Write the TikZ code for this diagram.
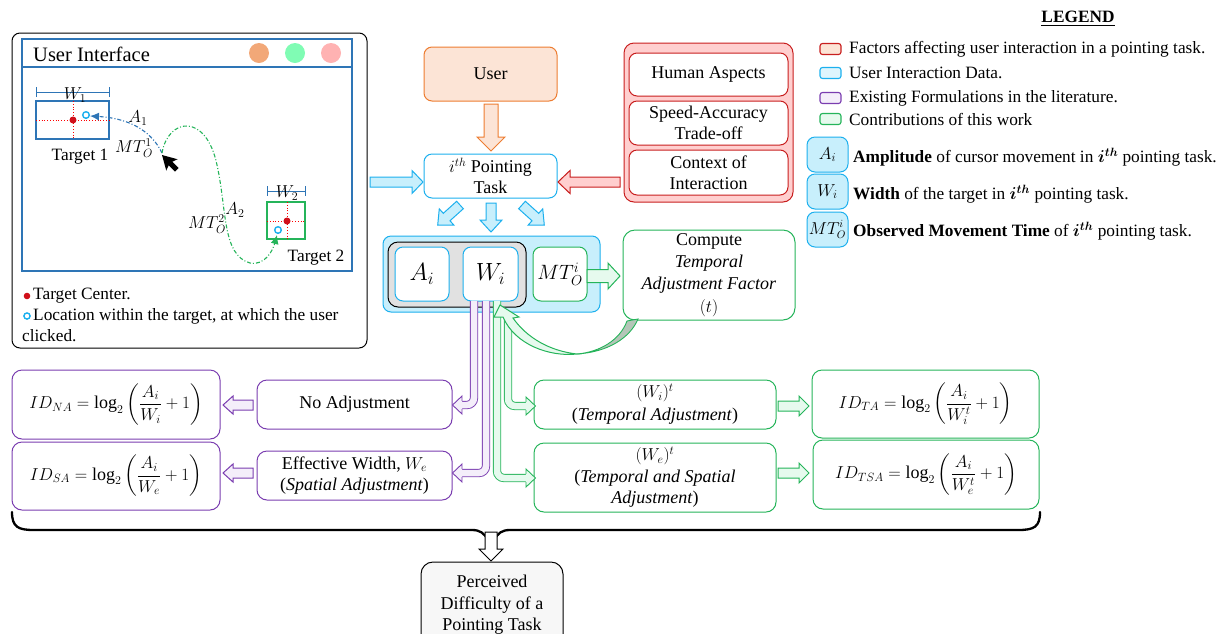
\documentclass[tikz,border=0pt]{standalone}
\usepackage{fontspec}
\setmainfont{Liberation Serif}
\usepackage{amsmath}
\usetikzlibrary{arrows.meta,calc}

\definecolor{cblue}{HTML}{1CB0EE}
\definecolor{bfill}{HTML}{C8EFFC}
\definecolor{cred}{HTML}{C81E1E}
\definecolor{rfill}{HTML}{FFCFCF}
\definecolor{corange}{HTML}{ED7D31}
\definecolor{ofill}{HTML}{FCE4D6}
\definecolor{cpurple}{HTML}{7A3DB0}
\definecolor{pfill}{HTML}{F4EEFA}
\definecolor{cgreen}{HTML}{25B45A}
\definecolor{gfill}{HTML}{E6FAEE}
\definecolor{uiblue}{HTML}{2E75B6}
\definecolor{ggray}{HTML}{E1E1E1}
\definecolor{twist}{HTML}{B4C6B8}
\definecolor{dotred}{HTML}{D0101A}
\definecolor{btnorange}{HTML}{F2A878}
\definecolor{btngreen}{HTML}{80FCB4}
\definecolor{btnpink}{HTML}{FFB2B2}
\definecolor{finalfill}{HTML}{F7F7F7}

% straight block arrow: style, start, angle, length, shaft half width, head half width, head length
\newcommand\blockarr[7]{%
  \draw[#1,line width=1pt,line join=miter,shift={#2},rotate=#3]
    (0,-#5) -- ({#4-#7},-#5) -- ({#4-#7},-#6) -- (#4,0) -- ({#4-#7},#6) -- ({#4-#7},#5) -- (0,#5) -- cycle;}
% open head closing a double-line shaft: line colour, fill, tip, angle
\newcommand\shafthead[4]{%
  \begin{scope}[shift={#3},rotate=#4]
    \fill[#2] (-9.6,-9) -- (0,0) -- (-9.6,9) -- cycle;
    \draw[#1,line width=0.9pt,line join=miter] (-9.5,-4.15) -- (-9.5,-9) -- (0,0) -- (-9.5,9) -- (-9.5,4.15);
  \end{scope}}

\tikzset{
  base/.style={font=\fontsize{17.3}{21}\selectfont, align=center, inner sep=0pt},
  sz/.style 2 args={minimum width=#1pt, minimum height=#2pt},
  rbox/.style={base, draw, line width=1pt, rounded corners=8pt, font=\fontsize{18}{21.5}\selectfont},
  bigmath/.style={font=\fontsize{24}{28}\selectfont},
  swatch/.style={draw, line width=1.1pt, rounded corners=2.5pt, minimum width=21pt, minimum height=11pt, inner sep=0pt},
  legtext/.style={base, anchor=west},
  purpleshaft/.style={cpurple, line width=0.9pt, double=pfill, double distance=6.5pt, rounded corners=7pt},
  greenshaft/.style={cgreen, line width=0.9pt, double=gfill, double distance=6.5pt, rounded corners=7pt},
  dashdot/.style={line width=1.1pt, dash pattern=on 4pt off 2pt on 1pt off 2pt},
}

\begin{document}
\begin{tikzpicture}[x=1pt,y=-1pt]
\useasboundingbox (0,0) rectangle (1226,633);

% ---------------- user interface panel ----------------
\node[rbox, draw=black, sz={355}{315}] (ui) at (189.5,190.5) {};
\draw[uiblue, line width=1.1pt] (22,39) rectangle (352,271);
\draw[uiblue, line width=1.1pt] (22,67) -- (352,67);
\node[base, anchor=west, font=\fontsize{20.5}{24}\selectfont] (uititle) at (33,54) {User Interface};
\fill[btnorange] (259,53) circle (10pt);
\fill[btngreen] (295,53) circle (10pt);
\fill[btnpink] (331,53) circle (10pt);

% target 1
\draw[uiblue, line width=1.1pt] (36,101) rectangle (109,139);
\draw[red, dotted, line width=0.8pt] (36,120) -- (109,120) (73,101) -- (73,139);
\draw[uiblue, line width=1pt] (36,92) -- (109,92) (36,87) -- (36,97) (109,87) -- (109,97);
\node[base] (w1) at (75,95) {$W_1$};
\fill[dotred] (73,120) circle (3.5pt);
\node[base] (t1) at (80,157) {Target 1};

% target 2
\draw[cgreen, line width=1.1pt] (267,202) rectangle (305,239);
\draw[red, dotted, line width=0.8pt] (267,221) -- (305,221) (287,202) -- (287,239);
\draw[uiblue, line width=1pt] (267,191) -- (305,191) (267,186) -- (267,196) (305,186) -- (305,196);
\node[base] (w2) at (287,193) {$W_2$};
\fill[dotred] (287,221) circle (3.5pt);
\node[base] (t2) at (316,258) {Target 2};

% movement paths
\coordinate (curs) at (162,153);
\coordinate (click1) at (90,116);
\coordinate (click2) at (277,235);
\draw[uiblue, dashdot, -{Latex[length=9pt,width=8pt]}] (curs) .. controls (150,128) and (125,118) .. (click1);
\draw[cgreen, dashdot, -{Latex[length=9pt,width=8pt]}] (curs) .. controls (168,118) and (206,112) .. (217,165)
  .. controls (227,210) and (222,255) .. (250,263) .. controls (265,266) and (273,250) .. (click2);
\draw[cblue, line width=1.4pt, fill=white] (86,115) circle (3.3pt);
\draw[cblue, line width=1.4pt, fill=white] (278,230) circle (3.3pt);
\node[base] (a1) at (138,118) {$A_1$};
\node[base] (mt1) at (134,148) {$MT_O^1$};
\node[base] (a2) at (235,210) {$A_2$};
\node[base] (mt2) at (207,224) {$MT_O^2$};

% cursor
\fill[black, shift={(162,155)}, rotate=45]
  (0,0) -- (-8,14) -- (-2.5,12) -- (-2.5,21) -- (2.5,21) -- (2.5,12) -- (8,14) -- cycle;

% panel notes
\fill[dotred] (27,296) circle (3.3pt);
\node[legtext] (note1) at (33,296) {Target Center.};
\draw[cblue, line width=1.4pt, fill=white] (27,316) circle (3.1pt);
\node[legtext] (note2) at (33,316) {Location within the target, at which the user};
\node[legtext] (note3) at (22,336) {clicked.};

% ---------------- centre column ----------------
\node[rbox, draw=corange, fill=ofill, sz={133}{54}] (user) at (490.5,74) {User};
\node[rbox, draw=cblue, fill=white, sz={133}{44}] (task) at (490.5,176) {$i^{th}$ Pointing\\Task};

\node[rbox, draw=cred, fill=rfill, sz={169}{159}, rounded corners=10pt] (factors) at (708.5,122.5) {};
\node[rbox, draw=cred, fill=white, sz={159}{43}] (human) at (708.5,74.5) {Human Aspects};
\node[rbox, draw=cred, fill=white, sz={159}{44}] (speed) at (708.5,123) {Speed-Accuracy\\Trade-off};
\node[rbox, draw=cred, fill=white, sz={159}{45}] (context) at (708.5,172.5) {Context of\\Interaction};

\blockarr{draw=corange, fill=ofill}{(491,104)}{-90}{47}{7}{14}{14}
\blockarr{draw=cblue, fill=bfill}{(370,182)}{0}{53}{5}{11.5}{11}
\blockarr{draw=cred, fill=rfill}{(620,182)}{180}{62}{5}{11.5}{12}
\blockarr{draw=cblue, fill=bfill}{(491,203)}{-90}{29}{5}{11}{12}
\blockarr{draw=cblue, fill=bfill}{(460,205)}{-138}{30}{5}{11}{12}
\blockarr{draw=cblue, fill=bfill}{(522,205)}{-42}{30}{5}{11}{12}

% interaction data
\node[rbox, draw=cblue, fill=bfill, sz={217}{76}] (data) at (491.5,274) {};
\node[rbox, draw=black, fill=ggray, sz={138}{65}, rounded corners=10pt] (grp) at (457,274.5) {};
\node[rbox, bigmath, draw=cblue, fill=white, sz={54}{54}] (ai) at (422,274) {$A_i$};
\node[rbox, bigmath, draw=cblue, fill=white, sz={55}{54}] (wi) at (490.5,274) {$W_i$};
\node[rbox, draw=cgreen, fill=white, sz={54}{54}, font=\fontsize{21}{25}\selectfont] (mt) at (560,274) {$MT_O^i$};

\node[rbox, draw=cgreen, fill=white, sz={172}{90}, rounded corners=12pt, font=\fontsize{18}{22.3}\selectfont] (comp) at (709,275)
  {Compute\\\textit{Temporal}\\\textit{Adjustment Factor}\\$(t)$};
\blockarr{draw=cgreen, fill=gfill}{(587,276)}{0}{33}{6.5}{13}{12}

% ---------------- adjustments ----------------
\node[rbox, draw=cpurple, fill=white, sz={195}{49}, rounded corners=10pt] (noadj) at (354.5,404.5) {No Adjustment};
\node[rbox, draw=cpurple, fill=white, sz={195}{49}, rounded corners=10pt] (effw) at (354.5,475.5) {Effective Width, $W_e$\\(\textit{Spatial Adjustment})};
\node[rbox, draw=cpurple, fill=white, sz={208}{69}, rounded corners=10pt] (idna) at (116,404.5)
  {$ID_{NA}=\log_2\left(\dfrac{A_i}{W_i}+1\right)$};
\node[rbox, draw=cpurple, fill=white, sz={208}{68}, rounded corners=10pt] (idsa) at (116,476)
  {$ID_{SA}=\log_2\left(\dfrac{A_i}{W_e}+1\right)$};

\node[rbox, draw=cgreen, fill=white, sz={242}{49}, rounded corners=10pt, font=\fontsize{18}{23}\selectfont] (wt) at (655,404.5)
  {$(W_i)^t$\\(\textit{Temporal Adjustment})};
\node[rbox, draw=cgreen, fill=white, sz={242}{69}, rounded corners=10pt, font=\fontsize{18}{21.5}\selectfont] (wet) at (655,477.5)
  {$(W_e)^t$\\(\textit{Temporal and Spatial}\\\textit{Adjustment})};
\node[rbox, draw=cgreen, fill=white, sz={227}{68}, rounded corners=10pt] (idta) at (925.5,404)
  {$ID_{TA}=\log_2\left(\dfrac{A_i}{W_i^{t}}+1\right)$};
\node[rbox, draw=cgreen, fill=white, sz={226}{69}, rounded corners=10pt] (idtsa) at (926,474.5)
  {$ID_{TSA}=\log_2\left(\dfrac{A_i}{W_e^{t}}+1\right)$};

\blockarr{draw=cpurple, fill=pfill}{(253,405)}{180}{30}{5}{9}{10}
\blockarr{draw=cpurple, fill=pfill}{(253,473)}{180}{30}{5}{9}{10}
\blockarr{draw=cgreen, fill=gfill}{(778,406)}{0}{31}{5}{10}{10}
\blockarr{draw=cgreen, fill=gfill}{(778,473)}{0}{31}{5}{10}{10}

% branches leaving the width box
\draw[purpleshaft] (474,301) -- (474,405) -- (462,405);
\shafthead{cpurple}{pfill}{(452.5,405)}{180}
\draw[purpleshaft] (486,301) -- (486,473) -- (462,473);
\shafthead{cpurple}{pfill}{(452.5,473)}{180}
\draw[greenshaft] (497,301) -- (497,478) -- (526,478);
\shafthead{cgreen}{gfill}{(535.5,478)}{0}
\draw[greenshaft] (508,318) -- (508,406) -- (526,406);
\shafthead{cgreen}{gfill}{(535.5,406)}{0}

% factor fed back from the compute box: a twisted ribbon ending in a head
\coordinate (twistpt) at (577,354);
\draw[cgreen, fill=gfill, line width=1pt, line join=miter]
  (500,305) -- (519,317) -- (513,318) .. controls (527,338) and (550,351) .. (twistpt)
  .. controls (550,357) and (515,345) .. (503,317) -- (494,317) -- cycle;
\draw[cgreen, fill=twist, line width=0.9pt]
  (twistpt) .. controls (600,352) and (620,340) .. (627,321) -- (638,319)
  .. controls (630,338) and (608,352) .. (twistpt) -- cycle;

% ---------------- result ----------------
\draw[line width=2.3pt, line cap=round]
  (12,512) .. controls (12,527) and (18,530) .. (34,530) -- (472,530) .. controls (480,530) and (484,533) .. (488,540)
  (494,540) .. controls (498,533) and (502,530) .. (510,530) -- (1018,530) .. controls (1034,530) and (1040,527) .. (1040,512);
\blockarr{draw=black, fill=white}{(491,532)}{-90}{29}{6}{12}{12}
\node[rbox, draw=black, fill=finalfill, sz={142}{86}, rounded corners=12pt] (final) at (492,605) {Perceived\\Difficulty of a\\Pointing Task};

% ---------------- legend ----------------
\node[base, font=\fontsize{17.3}{21}\selectfont\bfseries] (legend) at (1078,19) {\underline{LEGEND}};
\node[swatch, draw=cred, fill=ofill] (sw1) at (830.5,49) {};
\node[legtext] (lt1) at (849,49) {Factors affecting user interaction in a pointing task.};
\node[swatch, draw=cblue, fill=bfill!60] (sw2) at (830.5,73) {};
\node[legtext] (lt2) at (849,73) {User Interaction Data.};
\node[swatch, draw=cpurple, fill=pfill] (sw3) at (830.5,98) {};
\node[legtext] (lt3) at (849,98) {Existing Formulations in the literature.};
\node[swatch, draw=cgreen, fill=gfill] (sw4) at (830.5,119) {};
\node[legtext] (lt4) at (849,119) {Contributions of this work};

\node[rbox, draw=cblue, fill=bfill, sz={41}{35}, font=\fontsize{18}{22}\selectfont] (la) at (827.5,154.5) {$A_i$};
\node[rbox, draw=cblue, fill=bfill, sz={41}{35}, font=\fontsize{18}{22}\selectfont] (lw) at (827.5,191.5) {$W_i$};
\node[rbox, draw=cblue, fill=bfill, sz={41}{35}, font=\fontsize{16}{20}\selectfont] (lm) at (827.5,229.5) {$MT_O^i$};
\node[legtext] (lta) at (853,157) {\textbf{Amplitude} of cursor movement in {\boldmath$i^{th}$} pointing task.};
\node[legtext] (ltw) at (853,194) {\textbf{Width} of the target in {\boldmath$i^{th}$} pointing task.};
\node[legtext] (ltm) at (853,231) {\textbf{Observed Movement Time} of {\boldmath$i^{th}$} pointing task.};
\end{tikzpicture}
\end{document}
